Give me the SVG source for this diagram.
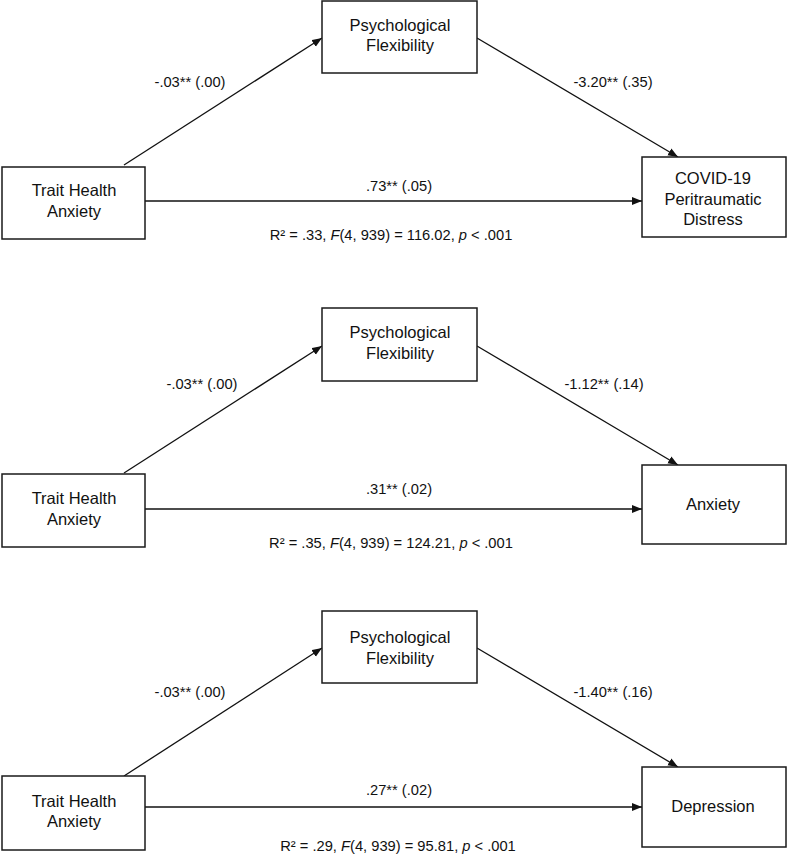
<svg xmlns="http://www.w3.org/2000/svg" width="793" height="854" viewBox="0 0 793 854">
<style>
.box{fill:#fff;stroke:#1a1a1a;stroke-width:1.5}
.node{font-family:"Liberation Sans",Arial,sans-serif;font-size:16.5px;fill:#111;text-anchor:middle}
.lbl{font-family:"Liberation Sans",Arial,sans-serif;font-size:14.7px;fill:#111;text-anchor:middle}
.edge{stroke:#111;stroke-width:1.3;fill:none;marker-end:url(#ah)}
</style>
<defs>
<marker id="ah" markerUnits="userSpaceOnUse" markerWidth="11" markerHeight="9" refX="10" refY="4" orient="auto">
<path d="M0,0 L10,4 L0,8 z" fill="#111"/>
</marker>
</defs>
<rect width="793" height="854" fill="#fff"/>
<g id="connectors">
<line class="edge" x1="124" y1="165" x2="322" y2="38"/>
<line class="edge" x1="477" y1="38" x2="678" y2="157"/>
<line class="edge" x1="145" y1="201" x2="642" y2="201"/>
<line class="edge" x1="124" y1="473" x2="322" y2="346"/>
<line class="edge" x1="477" y1="346" x2="678" y2="465"/>
<line class="edge" x1="145" y1="509" x2="642" y2="509"/>
<line class="edge" x1="124" y1="776" x2="322" y2="648"/>
<line class="edge" x1="477" y1="648" x2="678" y2="767"/>
<line class="edge" x1="145" y1="807" x2="642" y2="807"/>
</g>
<g id="labels">
<text class="lbl" x="190" y="87">-.03** (.00)</text>
<text class="lbl" x="613" y="87">-3.20** (.35)</text>
<text class="lbl" x="399" y="191">.73** (.05)</text>
<text class="lbl" x="391" y="240">R² = .33, <tspan font-style="italic">F</tspan>(4, 939) = 116.02, <tspan font-style="italic">p</tspan> &lt; .001</text>
<text class="lbl" x="202" y="389">-.03** (.00)</text>
<text class="lbl" x="604" y="389">-1.12** (.14)</text>
<text class="lbl" x="399" y="494">.31** (.02)</text>
<text class="lbl" x="391" y="548">R² = .35, <tspan font-style="italic">F</tspan>(4, 939) = 124.21, <tspan font-style="italic">p</tspan> &lt; .001</text>
<text class="lbl" x="190" y="697">-.03** (.00)</text>
<text class="lbl" x="613" y="697">-1.40** (.16)</text>
<text class="lbl" x="399" y="795">.27** (.02)</text>
<text class="lbl" x="398" y="851">R² = .29, <tspan font-style="italic">F</tspan>(4, 939) = 95.81, <tspan font-style="italic">p</tspan> &lt; .001</text>
</g>
<g id="trait1"><rect class="box" x="2" y="167" width="143" height="72"/><text class="node" x="74" y="196">Trait Health</text><text class="node" x="74" y="217">Anxiety</text></g>
<g id="pf1"><rect class="box" x="322" y="1" width="155" height="72"/><text class="node" x="400" y="31">Psychological</text><text class="node" x="400" y="51">Flexibility</text></g>
<g id="covid"><rect class="box" x="642" y="157" width="144" height="80"/><text class="node" x="713" y="184">COVID-19</text><text class="node" x="713" y="205">Peritraumatic</text><text class="node" x="713" y="225">Distress</text></g>
<g id="trait2"><rect class="box" x="2" y="474" width="143" height="73"/><text class="node" x="74" y="504">Trait Health</text><text class="node" x="74" y="525">Anxiety</text></g>
<g id="pf2"><rect class="box" x="322" y="308" width="155" height="73"/><text class="node" x="400" y="338">Psychological</text><text class="node" x="400" y="359">Flexibility</text></g>
<g id="anxiety"><rect class="box" x="642" y="465" width="144" height="79"/><text class="node" x="713" y="510">Anxiety</text></g>
<g id="trait3"><rect class="box" x="2" y="776" width="143" height="74"/><text class="node" x="74" y="807">Trait Health</text><text class="node" x="74" y="827">Anxiety</text></g>
<g id="pf3"><rect class="box" x="322" y="611" width="155" height="72"/><text class="node" x="400" y="643">Psychological</text><text class="node" x="400" y="664">Flexibility</text></g>
<g id="depression"><rect class="box" x="642" y="767" width="144" height="80"/><text class="node" x="713" y="812">Depression</text></g>
</svg>
